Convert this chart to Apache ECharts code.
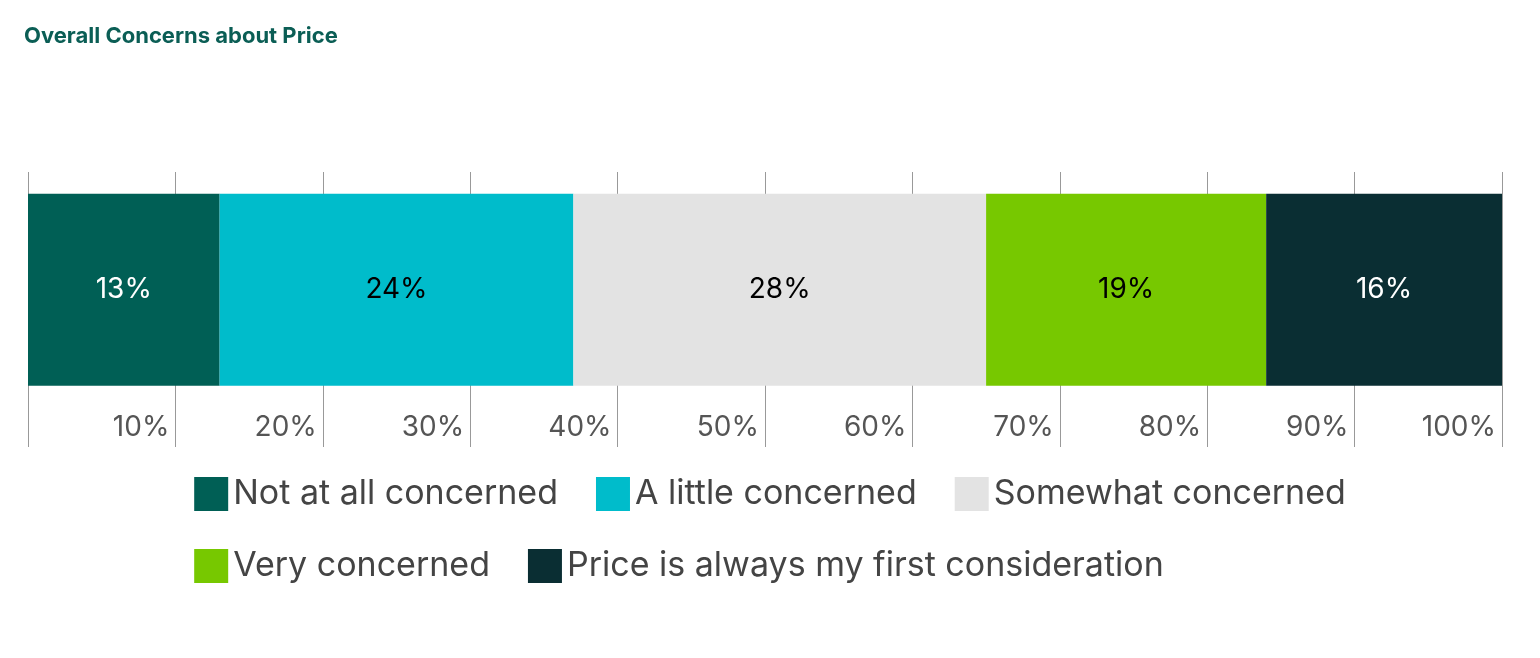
<!DOCTYPE html>
<html><head><meta charset="utf-8">
<script src="https://cdn.jsdelivr.net/npm/echarts@6/dist/echarts.min.js"></script>
<style>html,body{margin:0;padding:0;background:#fff}#c{width:1540px;height:658px}</style>
</head><body><div id="c"></div>
<script>
const seriesNames = ['Not at all concerned','A little concerned','Somewhat concerned','Very concerned','Price is always my first consideration'];
const values = [13, 24, 28, 19, 16];
const colors = ['#005f55','#00bccb','#e3e3e3','#77c800','#0a2e33'];
const labelColors = ['#fff','#000','#000','#000','#fff'];
const cats = ['a','b','c','Price','e','f','g','h'];
const barIndex = 3;
const chart = echarts.init(document.getElementById('c'));
chart.setOption({
  animation:false,
  title:{text:'Overall Concerns about Price',left:19,top:20,textStyle:{fontFamily:'Inter',fontSize:22,fontWeight:'bold',color:'#0b5e55'}},
  textStyle:{fontFamily:'Inter'},
  grid:{left:28,right:38,top:172,bottom:211},
  xAxis:{type:'value',min:0,max:100,interval:10,
    axisLine:{show:false},axisTick:{show:false},
    splitLine:{show:true,lineStyle:{color:'#999',width:1}},
    axisLabel:{showMinLabel:false,formatter:'{value}%',fontSize:28,color:'#555',align:'right',margin:-33,padding:[0,6,0,0],fontFamily:'Inter'}},
  yAxis:{type:'category',data:cats,inverse:true,boundaryGap:false,show:false},
  legend:{left:'center',top:472,width:1320,itemWidth:34,itemHeight:34,itemGap:38,
    textStyle:{fontSize:34,color:'#444',fontFamily:'Inter'},icon:'rect',data:seriesNames},
  series: seriesNames.map((n,i)=>({
    name:n,type:'bar',stack:'t',barWidth:192,
    itemStyle:{color:colors[i]},
    label:{show:true,position:'inside',formatter:'{c}%',fontSize:28,color:labelColors[i],fontFamily:'Inter'},
    data:cats.map((c,k)=>k===barIndex?values[i]:null)
  }))
});
</script></body></html>
